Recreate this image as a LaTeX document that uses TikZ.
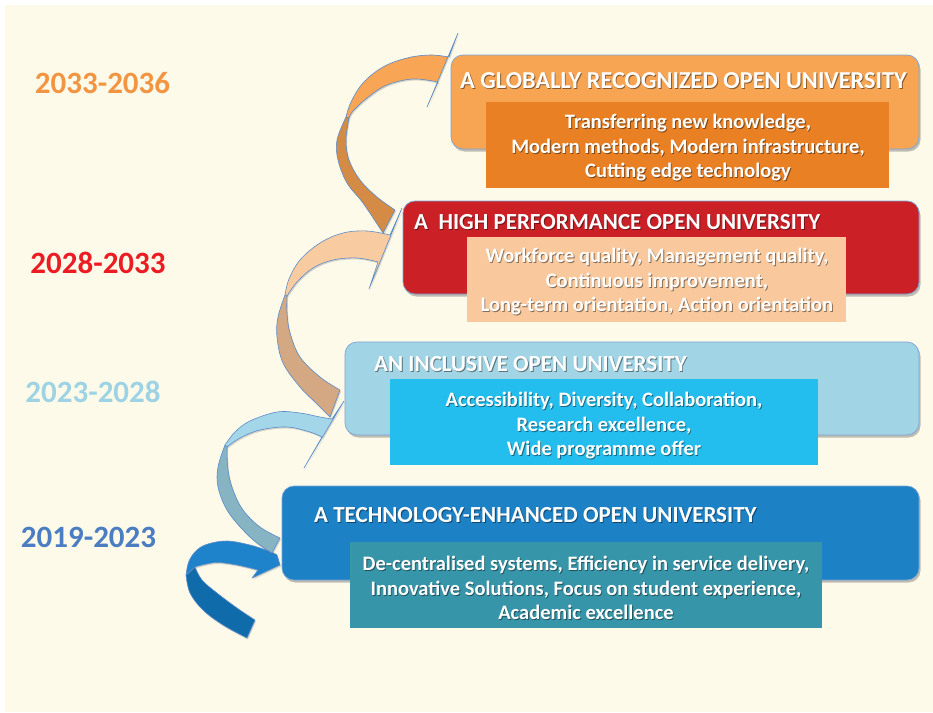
\documentclass[tikz,border=0pt]{standalone}
\usepackage{fontspec}
\setmainfont{Carlito}
\usetikzlibrary{shadows}

\definecolor{bgcream}{HTML}{FEFAE9}
\definecolor{boxline}{HTML}{7AA3D6}
\definecolor{ribline}{HTML}{5B8CCB}
% stage boxes
\definecolor{stOrange}{HTML}{F8A553}
\definecolor{stRed}{HTML}{CC2027}
\definecolor{stSky}{HTML}{A1D5E5}
\definecolor{stBlue}{HTML}{1D81C6}
% inner panels
\definecolor{pnOrange}{HTML}{E98024}
\definecolor{pnPeach}{HTML}{F9C99D}
\definecolor{pnCyan}{HTML}{23BDEE}
\definecolor{pnTeal}{HTML}{3795A9}
% year labels
\definecolor{yrOrange}{HTML}{F29543}
\definecolor{yrRed}{HTML}{EA1C24}
\definecolor{yrSky}{HTML}{9DD3E4}
\definecolor{yrBlue}{HTML}{4A7DC1}
% ribbon arrows (front / back faces)
\definecolor{rbOrangeF}{HTML}{F8A555}
\definecolor{rbOrangeB}{HTML}{D38B45}
\definecolor{rbPeachF}{HTML}{F9CBA0}
\definecolor{rbPeachB}{HTML}{D3A882}
\definecolor{rbSkyF}{HTML}{A3D6E8}
\definecolor{rbSkyB}{HTML}{86B4C2}
\definecolor{rbBlueF}{HTML}{1F83CB}
\definecolor{rbBlueB}{HTML}{0F6BAA}

% white text with a soft dark cast behind it
\newcommand{\castlabel}[4]{%
  \node[#2, text=black, opacity=0.45, xshift=0.9pt, yshift=-1pt] (#1-cast) at (#3) {#4};
  \node[#2] (#1) at (#3) {#4};}

\begin{document}
\begin{tikzpicture}[x=1pt, y=-1pt,
  stage/.style={rounded corners=12pt, draw=boxline, line width=0.7pt, inner sep=0pt,
    drop shadow={shadow xshift=1.5pt, shadow yshift=-2.5pt, opacity=0.35, fill=black!70}},
  panel/.style={inner sep=0pt, draw=none},
  yearlbl/.style={font=\fontsize{31}{36}\selectfont\bfseries, inner sep=0pt},
  titlelbl/.style={font=\fontsize{23}{27}\selectfont\bfseries, text=white, inner sep=0pt, anchor=west},
  bigtitlelbl/.style={titlelbl, font=\fontsize{24.3}{28}\selectfont\bfseries},
  bodylbl/.style={font=\fontsize{20.5}{24.5}\selectfont\bfseries, text=white, align=center, inner sep=0pt},
  ribbon/.style={draw=ribline, line width=0.6pt, line join=round,
    drop shadow={shadow xshift=1pt, shadow yshift=-1.5pt, opacity=0.25, fill=black!60}},
  smoothe/.style={smooth, tension=0.6}]

\useasboundingbox (0,0) rectangle (933,712);
\fill[white] (0,0) rectangle (933,712);
\fill[bgcream] (5,5) rectangle (933,712);

% ---------- year labels ----------
\node[yearlbl, text=yrOrange] (y1) at (102.5,83.5) {2033-2036};
\node[yearlbl, text=yrRed]    (y2) at (98,262.5)   {2028-2033};
\node[yearlbl, text=yrSky]    (y3) at (93,392)     {2023-2028};
\node[yearlbl, text=yrBlue]   (y4) at (88.5,537.5) {2019-2023};

% ---------- stage boxes ----------
\node[stage, fill=stOrange, minimum width=468pt, minimum height=94pt] (s1) at (685,102) {};
\node[stage, fill=stRed,    minimum width=516pt, minimum height=93pt] (s2) at (661,247.5) {};
\node[stage, fill=stSky,    minimum width=574pt, minimum height=93pt] (s3) at (632,388.5) {};
\node[stage, fill=stBlue,   minimum width=637pt, minimum height=94pt] (s4) at (600.5,533) {};

% ---------- inner panels ----------
\node[panel, fill=pnOrange, minimum width=403pt, minimum height=86pt] (p1) at (687.5,145) {};
\node[panel, fill=pnPeach,  minimum width=379pt, minimum height=85pt] (p2) at (656.5,279.5) {};
\node[panel, fill=pnCyan,   minimum width=428pt, minimum height=86pt] (p3) at (604,422) {};
\node[panel, fill=pnTeal,   minimum width=472pt, minimum height=86pt] (p4) at (586,585) {};

% ---------- titles ----------
\castlabel{t1}{bigtitlelbl}{460,81}{A GLOBALLY RECOGNIZED OPEN UNIVERSITY}
\castlabel{t2}{titlelbl}{414,222}{A\ \ HIGH PERFORMANCE OPEN UNIVERSITY}
\castlabel{t3}{titlelbl}{374,364}{AN INCLUSIVE OPEN UNIVERSITY}
\castlabel{t4}{titlelbl}{314,515}{A TECHNOLOGY-ENHANCED OPEN UNIVERSITY}

% ---------- panel texts ----------
\castlabel{d1}{bodylbl}{688,148}{Transferring new knowledge,\\Modern methods, Modern infrastructure,\\Cutting edge technology}
\castlabel{d2}{bodylbl}{657,282}{Workforce quality, Management quality,\\Continuous improvement,\\Long-term orientation, Action orientation}
\castlabel{d3}{bodylbl}{604,426}{Accessibility, Diversity, Collaboration,\\Research excellence,\\Wide programme offer}
\castlabel{d4}{bodylbl}{586,588}{De-centralised systems, Efficiency in service delivery,\\Innovative Solutions, Focus on student experience,\\Academic excellence}

% ---------- ribbon arrows ----------
% 2019-2023 start swirl
\filldraw[ribbon, fill=rbBlueB]
  plot[smoothe] coordinates {(247,638) (223,625) (203,610) (190,593) (186,575)}
  -- plot[smoothe] coordinates {(195,567) (202,580) (217,593) (237,608) (255,620)} -- cycle;
\filldraw[ribbon, fill=rbBlueF]
  plot[smoothe] coordinates {(186,575) (189,561) (197,550) (208,544) (227,541) (250,545) (270,551.5) (277,555)}
  -- (280,565) -- (252,578)
  -- plot[smoothe] coordinates {(258,570) (237,565) (217,562.5) (202,565) (195,567)} -- cycle;

% into 2023-2028
\filldraw[ribbon, fill=rbSkyB]
  plot[smoothe] coordinates {(272,553) (257,543) (243,530) (227,510) (218,487) (218,467) (225,445)}
  -- plot[smoothe] coordinates {(227,447) (228,470) (233,490) (243,510) (260,527) (280,538)} -- cycle;
\filldraw[ribbon, fill=rbSkyF]
  plot[smoothe] coordinates {(225,445) (235,432) (250,421) (277,412) (300,413) (320,417) (332,419)}
  -- (344,401) -- (304,468)
  -- plot[smoothe] coordinates {(322,437) (310,432) (287,427) (260,430) (240,438) (227,447)} -- cycle;

% into 2028-2033
\filldraw[ribbon, fill=rbPeachB]
  plot[smoothe] coordinates {(330,417) (316,403) (300,387) (283,363) (277,337) (278,317) (285,295)}
  -- plot[smoothe] coordinates {(287,296) (287,313) (290,333) (300,357) (320,377) (340,390)} -- cycle;
\filldraw[ribbon, fill=rbPeachF]
  plot[smoothe] coordinates {(285,295) (289,279) (300,260) (320,243) (343,233) (367,231) (390,235)}
  -- (402,208) -- (369,289)
  -- plot[smoothe] coordinates {(378,262) (357,258) (333,260) (313,268) (297,282) (287,296)} -- cycle;

% into 2033-2036
\filldraw[ribbon, fill=rbOrangeB]
  plot[smoothe] coordinates {(383,233) (363,203) (347,183) (338,160) (337,140) (346,117)}
  -- plot[smoothe] coordinates {(349,118) (346,140) (349,160) (360,180) (377,197) (395,210)} -- cycle;
\filldraw[ribbon, fill=rbOrangeF]
  plot[smoothe] coordinates {(346,117) (351,102) (363,83) (383,67) (407,58) (430,55) (449,57)}
  -- (458,33) -- (427,107)
  -- plot[smoothe] coordinates {(438,82) (413,79) (387,85) (367,98) (353,111) (349,118)} -- cycle;

\end{tikzpicture}
\end{document}
